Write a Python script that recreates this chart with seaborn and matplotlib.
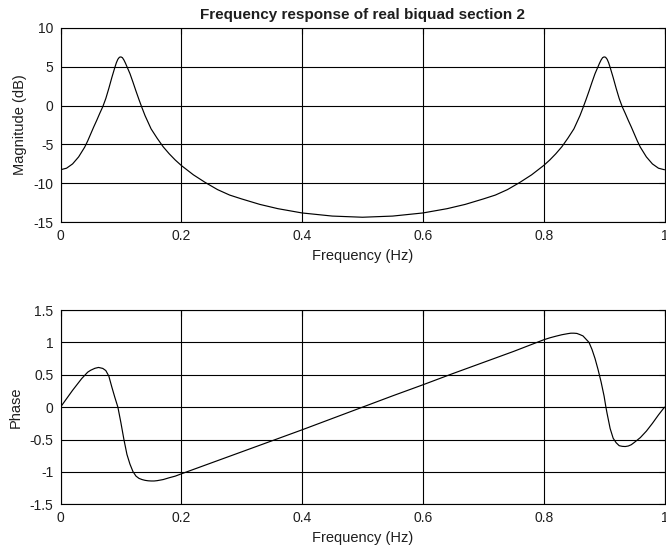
import matplotlib
matplotlib.use("Agg")
import matplotlib.pyplot as plt
import seaborn as sns
import pandas as pd

# ---- data ----
freq_mag = [0.0, 0.01, 0.02, 0.03, 0.04, 0.045, 0.05, 0.055, 0.06, 0.065, 0.07, 0.075,
            0.08, 0.085, 0.09, 0.0925, 0.095, 0.0975, 0.1, 0.1025, 0.105, 0.1075, 0.11,
            0.115, 0.12, 0.125, 0.13, 0.135,
            0.14, 0.15, 0.16, 0.17, 0.18, 0.19, 0.2, 0.22, 0.24, 0.26, 0.28, 0.3, 0.33,
            0.36, 0.4, 0.45, 0.5,
            0.55, 0.6, 0.64, 0.67, 0.7, 0.72, 0.74, 0.76, 0.78, 0.8, 0.81, 0.82, 0.83,
            0.84, 0.85, 0.86, 0.865, 0.87, 0.875, 0.88, 0.885, 0.89, 0.8925, 0.895, 0.8975,
            0.9, 0.9025, 0.905, 0.9075,
            0.91, 0.915, 0.92, 0.925, 0.93, 0.935, 0.94, 0.945, 0.95, 0.955, 0.96, 0.97,
            0.98, 0.99, 1.0]
mag_db = [-8.25, -8.05, -7.5, -6.6, -5.35, -4.55, -3.65, -2.75, -1.9, -1.0, -0.15, 0.9,
          2.2, 3.6, 4.9, 5.5, 5.95, 6.2, 6.25, 6.15, 5.85, 5.45, 5.0,
          4.1, 3.0, 1.85, 0.75, -0.3,
          -1.3, -3.0, -4.2, -5.3, -6.2, -7.0, -7.7, -8.9, -9.9, -10.8, -11.5, -12.0, -12.7,
          -13.25, -13.8, -14.2, -14.35,
          -14.2, -13.8, -13.25, -12.7, -12.0, -11.5, -10.8, -9.9, -8.9, -7.7, -7.0, -6.2, -5.3,
          -4.2, -3.0, -1.3, -0.3, 0.75, 1.85, 3.0, 4.1, 5.0, 5.45, 5.85, 6.15,
          6.25, 6.2, 5.95, 5.5,
          4.9, 3.6, 2.2, 0.9, -0.15, -1.0, -1.9, -2.75, -3.65, -4.55, -5.35, -6.6,
          -7.5, -8.05, -8.25]

freq_ph = [0.0, 0.01, 0.02, 0.03, 0.035, 0.04, 0.045, 0.05, 0.057, 0.063, 0.07, 0.075,
           0.08, 0.085, 0.09, 0.095, 0.1, 0.105, 0.11, 0.115, 0.12, 0.125, 0.13, 0.135,
           0.14, 0.145, 0.15, 0.155, 0.16, 0.17, 0.18, 0.19, 0.2, 0.25, 0.3, 0.35, 0.4,
           0.45, 0.5, 0.55, 0.6, 0.65, 0.7, 0.75, 0.8, 0.81, 0.82, 0.83, 0.84, 0.845,
           0.85, 0.855, 0.86, 0.865, 0.87, 0.875, 0.88, 0.885, 0.89, 0.895, 0.9, 0.903,
           0.905, 0.91, 0.915, 0.92, 0.925, 0.93, 0.935, 0.94, 0.945, 0.95, 0.96, 0.97,
           0.98, 0.99, 1.0]
phase = [0.0, 0.13, 0.26, 0.38, 0.44, 0.49, 0.54, 0.57, 0.60, 0.613, 0.598, 0.565,
         0.48, 0.31, 0.15, 0.0, -0.24, -0.5, -0.73, -0.88, -0.995, -1.065, -1.10, -1.118,
         -1.13, -1.137, -1.14, -1.14, -1.135, -1.118, -1.09, -1.065, -1.03, -0.86, -0.69, -0.52, -0.35,
         -0.175, 0.0, 0.175, 0.345, 0.52, 0.69, 0.86, 1.04, 1.07, 1.095, 1.118, 1.135, 1.142,
         1.142, 1.138, 1.12, 1.10, 1.05, 1.0, 0.89, 0.75, 0.58, 0.39, 0.17, 0.0,
         -0.1, -0.33, -0.48, -0.55, -0.595, -0.605, -0.608, -0.6, -0.58, -0.545, -0.47, -0.37,
         -0.25, -0.12, 0.0]

x_ticks = [0, 0.2, 0.4, 0.6, 0.8, 1]
x_tick_labels = ["0", "0.2", "0.4", "0.6", "0.8", "1"]
mag_ticks = [-15, -10, -5, 0, 5, 10]
mag_tick_labels = ["-15", "-10", "-5", "0", "5", "10"]
ph_ticks = [-1.5, -1, -0.5, 0, 0.5, 1, 1.5]
ph_tick_labels = ["-1.5", "-1", "-0.5", "0", "0.5", "1", "1.5"]

title = "Frequency response of real biquad section 2"

# ---- plotting ----
sns.set_style("white")
plt.rcParams["font.family"] = ["Liberation Sans", "DejaVu Sans"]

df_mag = pd.DataFrame({"f": freq_mag, "m": mag_db})
df_ph = pd.DataFrame({"f": freq_ph, "p": phase})

fig = plt.figure(figsize=(6.66, 5.47), dpi=100)
W, H = 666, 547
ax1 = fig.add_axes([60.5 / W, 1 - 222.3 / H, 604 / W, (222.3 - 27.7) / H])
ax2 = fig.add_axes([60.5 / W, 1 - 504.3 / H, 604 / W, (504.3 - 310) / H])

sns.lineplot(data=df_mag, x="f", y="m", ax=ax1, color="black", linewidth=0.85,
             estimator=None, sort=False)
sns.lineplot(data=df_ph, x="f", y="p", ax=ax2, color="black", linewidth=0.85,
             estimator=None, sort=False)

txt = "#1e1e1e"
for ax, yt, ytl, ylim, ylab in [
    (ax1, mag_ticks, mag_tick_labels, (-15, 10), "Magnitude (dB)"),
    (ax2, ph_ticks, ph_tick_labels, (-1.5, 1.5), "Phase"),
]:
    ax.set_xlim(0, 1)
    ax.set_ylim(*ylim)
    ax.set_xticks(x_ticks)
    ax.set_xticklabels(x_tick_labels)
    ax.set_yticks(yt)
    ax.set_yticklabels(ytl)
    ax.grid(True, color="black", linewidth=0.8, linestyle="-")
    ax.set_axisbelow(True)
    for s in ax.spines.values():
        s.set_color("black")
        s.set_linewidth(0.8)
        s.set_visible(True)
    ax.tick_params(axis="both", which="both", direction="in", length=4,
                   top=True, right=True, labelsize=10, colors="black",
                   labelcolor=txt, pad=5)
    ax.set_xlabel("Frequency (Hz)", fontsize=10.5, color=txt, labelpad=4)
    ax.set_ylabel(ylab, fontsize=10.5, color=txt, labelpad=5)

ax1.set_title(title, fontsize=11, fontweight="bold", pad=6, color=txt)

fig.savefig("out.png", dpi=100)
